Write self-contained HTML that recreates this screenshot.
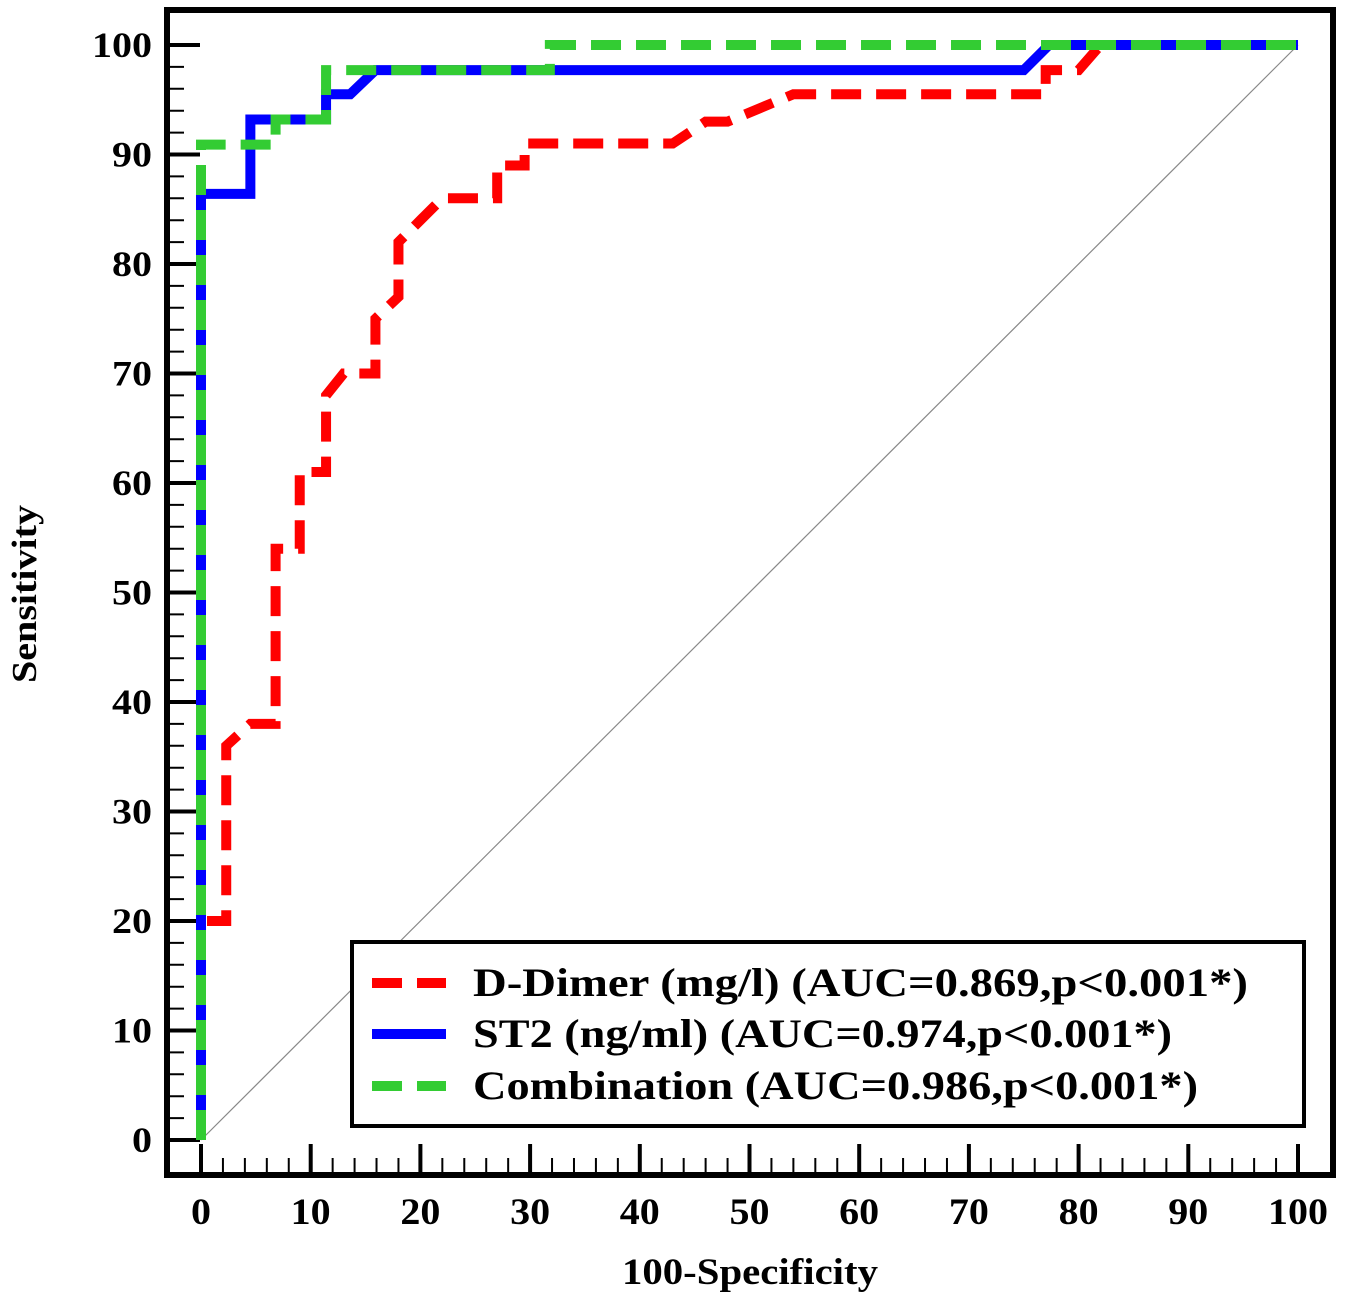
<!DOCTYPE html>
<html><head><meta charset="utf-8"><style>
body{margin:0;background:#fff}
svg text{font-family:"Liberation Serif",serif;font-weight:bold;fill:#000}
</style></head><body>
<svg width="1345" height="1309" xmlns="http://www.w3.org/2000/svg">
<rect x="0" y="0" width="1345" height="1309" fill="#fff"/>
<g id="ticks"></g>
<g id="series"></g>
<rect x="167" y="10" width="1166" height="1165" fill="none" stroke="#000" stroke-width="6"/>
<text x="622" y="1284" font-size="37" textLength="256" lengthAdjust="spacingAndGlyphs">100-Specificity</text>
<text transform="translate(36,683) rotate(-90)" font-size="35" textLength="178" lengthAdjust="spacingAndGlyphs">Sensitivity</text>
<g>
<rect x="352" y="942" width="952" height="184" fill="#fff" stroke="#000" stroke-width="4"/>
<line x1="372" y1="983" x2="446" y2="983" stroke="#ff0000" stroke-width="10" stroke-dasharray="30,15"/>
<text x="473" y="996" font-size="40" textLength="775" lengthAdjust="spacingAndGlyphs">D-Dimer (mg/l) (AUC=0.869,p&lt;0.001*)</text>
<line x1="372" y1="1034" x2="446" y2="1034" stroke="#0000ff" stroke-width="10"/>
<text x="473" y="1047" font-size="40" textLength="699" lengthAdjust="spacingAndGlyphs">ST2 (ng/ml) (AUC=0.974,p&lt;0.001*)</text>
<line x1="372" y1="1086" x2="446" y2="1086" stroke="#33cc33" stroke-width="10" stroke-dasharray="30,15"/>
<text x="473" y="1099" font-size="40" textLength="725" lengthAdjust="spacingAndGlyphs">Combination (AUC=0.986,p&lt;0.001*)</text>
</g>
</svg>
<script>
const xTicks=[0,10,20,30,40,50,60,70,80,90,100];
const yTicks=[0,10,20,30,40,50,60,70,80,90,100];
const ddimerX=[0,0,2.3,2.3,4.5,6.8,6.8,9,9,11.4,11.4,13,15.9,15.9,18,18,20,22,27,27,29.5,29.5,43,46,48,54,77,77,80,82,100];
const ddimerY=[0,20,20,36,38,38,54,54,61,61,68,70,70,75,77,82,84,86,86,89,89,91,91,93,93,95.5,95.5,97.7,97.7,100,100];
const st2X=[0,0,4.5,4.5,11.4,11.4,13.6,15.9,75,77.3,100];
const st2Y=[0,86.4,86.4,93.2,93.2,95.5,95.5,97.7,97.7,100,100];
const combX=[0,0,6.8,6.8,11.4,11.4,31.8,31.8,100];
const combY=[0,90.9,90.9,93.2,93.2,97.7,97.7,100,100];
const sx=v=>201+v*10.97;
const sy=v=>1140-v*10.95;
const NS="http://www.w3.org/2000/svg";
const tg=document.getElementById('ticks');
const sg=document.getElementById('series');
function mk(tag,attrs,parent){const e=document.createElementNS(NS,tag);for(const k in attrs)e.setAttribute(k,attrs[k]);parent.appendChild(e);return e;}
for(let v=0;v<=100;v+=2){
  const major=v%10===0;
  const lx=mk('line',{x1:sx(v),x2:sx(v),y1:1175,y2:major?1144:1158,stroke:'#000','stroke-width':major?4:2},tg);
  
  
  const ly=mk('line',{y1:sy(v),y2:sy(v),x1:167,x2:major?200:184,stroke:'#000','stroke-width':major?4:2},tg);
  
  
}
xTicks.forEach(v=>{const s=String(v);const w=s.length*20;
  const t=mk('text',{x:sx(v)-w/2,y:1224,'font-size':37,textLength:w,lengthAdjust:'spacingAndGlyphs'},tg);t.textContent=s;
  
  });
yTicks.forEach(v=>{const s=String(v);const w=s.length*20;
  const t=mk('text',{x:152-w,y:sy(v)+12,'font-size':36,textLength:w,lengthAdjust:'spacingAndGlyphs'},tg);t.textContent=s;
  
  });
const diag=mk('line',{x1:sx(0),y1:sy(0),x2:sx(100),y2:sy(100),stroke:'#888','stroke-width':1.2},sg);


function series(xs,ys,color,dash,name){
  const pts=xs.map((x,i)=>sx(x)+','+sy(ys[i])).join(' ');
  const a={points:pts,fill:'none',stroke:color,'stroke-width':10,'stroke-linejoin':'miter'};
  if(dash)a['stroke-dasharray']=dash;
  const p=mk('polyline',a,sg);
  
  
}
series(ddimerX,ddimerY,'#ff0000','30,15','ddimer-curve');
series(st2X,st2Y,'#0000ff',null,'st2-curve');
series(combX,combY,'#33cc33','30,15','combination-curve');
</script>
</body></html>
